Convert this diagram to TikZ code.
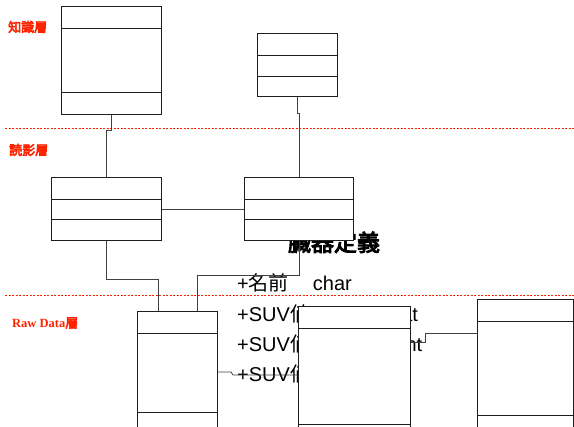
\documentclass[tikz,border=0pt]{standalone}
\usepackage{fontspec}
\setmainfont{Liberation Serif}
\setsansfont{Liberation Sans}
\newfontfamily\cjk{Noto Sans CJK JP}
\newfontfamily\cjkbold[FakeBold=4]{Noto Sans CJK JP}
\usetikzlibrary{positioning,calc}
\definecolor{layerred}{HTML}{FF2200}
\definecolor{boxline}{HTML}{1E1E1E}
\definecolor{linkgray}{HTML}{404040}
\tikzset{
  % --- class boxes and their compartments ---
  klass/.style={draw=boxline, line width=1pt, fill=white, inner sep=0pt,
                anchor=north west},
  compart/.style={draw=boxline, line width=1pt},
  % --- connectors and layer borders ---
  link/.style={draw=linkgray, line width=0.8pt},
  layer/.style={draw=layerred, line width=0.7pt, dash pattern=on 2pt off 1.5pt},
  layername/.style={text=layerred, font=\cjkbold\fontsize{13}{15}\selectfont,
                    anchor=west, inner sep=0pt},
  attr/.style={anchor=base west, font=\sffamily\fontsize{20}{24}\selectfont,
               inner sep=0pt},
}
\newcommand{\klassbox}[6]{% name, x, y, width, height, divider offsets
  \node[klass, minimum width=#4pt, minimum height=#5pt] (#1) at (#2,#3) {};
  \foreach \d in {#6}
    \draw[compart] ($(#1.north west)+(0,\d)$) -- ($(#1.north east)+(0,\d)$);
}

\begin{document}
\begin{tikzpicture}[x=1pt, y=-1pt]
  \useasboundingbox (0,0) rectangle (574,427);
  \clip (0,0) rectangle (574,427);

  % --- layers ---
  \draw[layer] (5,128) -- (574,128);
  \draw[layer] (5,295) -- (574,295);
  \node[layername] (lknow) at (8,27) {知識層};
  \node[layername] (lread) at (9,150) {読影層};
  \node[layername] (lraw)  at (12,323)
        {{\rmfamily\bfseries\fontsize{12.5}{14}\selectfont Raw Data}層};

  % --- organ definition (partly hidden by the boxes) ---
  \node[anchor=base, inner sep=0pt, font=\cjkbold\fontsize{23}{25}\selectfont]
        (organ) at (334,251) {臓器定義};
  \node[attr] (attr1) at (237,291) {+{\cjk 名前}\hspace{24pt}char};
  \node[attr] (attr2) at (237,322) {\makebox[143pt][l]{+SUV{\cjk 値}MAX}float};
  \node[attr] (attr3) at (237,352) {\makebox[164pt][l]{+SUV{\cjk 値}MIN}int};
  \node[attr] (attr4) at (237,382) {\makebox[135pt][l]{+SUV{\cjk 値}AVG}float};

  % --- classes ---
  \klassbox{know1}{61}{6}{100}{108}{23,87}
  \klassbox{know2}{257}{33}{80}{63}{23,44}
  \klassbox{read1}{51}{177}{110}{63}{23,43}
  \klassbox{read2}{244}{177}{109}{63}{23,43}
  \klassbox{raw1}{137}{311}{80}{130}{23,102}
  \klassbox{raw2}{298}{306}{112}{130}{23,119}
  \klassbox{raw3}{477}{299}{96}{140}{23,117}

  % --- connectors ---
  \coordinate (raw1a) at ($(raw1.north west)+(21,0)$);
  \coordinate (raw1b) at ($(raw1.north west)+(60,0)$);
  \coordinate (raw1c) at ($(raw1.north east)+(0,61)$);
  \coordinate (raw2a) at ($(raw2.north west)+(0,69)$);
  \coordinate (raw2b) at ($(raw2.north east)+(0,36)$);
  \coordinate (raw3a) at ($(raw3.north west)+(0,34)$);
  \draw[link] (know1.south) -- ++(0,15) -| (read1.north);
  \draw[link] (know2.south) -- ++(0,16) -| (read2.north);
  \draw[link] (read1.east) -- (read2.west);
  \draw[link] (read1.south) -- ++(0,38) -| (raw1a);
  \draw[link] (read2.south) -- ++(0,34) -| (raw1b);
  \draw[link] (raw1c) -- ++(13,0) -- ++(2,3) -- (raw2a);
  \draw[link] (raw2b) -- ++(14,0) |- (raw3a);
\end{tikzpicture}
\end{document}
